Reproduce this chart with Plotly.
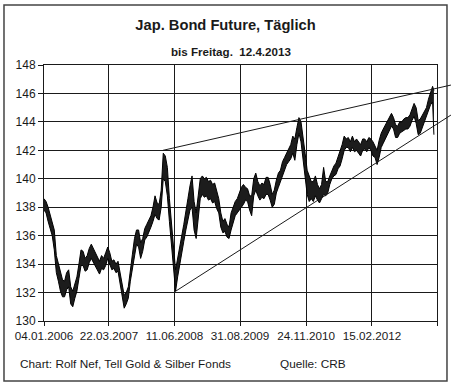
import pandas as pd
import plotly.graph_objects as go

# ---------------- texts ----------------
title_text = "Jap. Bond Future, Täglich"
subtitle_text = "bis Freitag.  12.4.2013"
footer_left = "Chart: Rolf Nef, Tell Gold &amp; Silber Fonds"
footer_right = "Quelle: CRB"

# ---------------- axes ----------------
tick_dates = ["2006-01-04", "2007-03-22", "2008-06-11", "2009-08-31", "2010-11-24", "2012-02-15", "2013-05-03"]
tick_labels = ["04.01.2006", "22.03.2007", "11.06.2008", "31.08.2009", "24.11.2010", "15.02.2012", ""]
x_start = "2006-01-04"
x_end = "2013-05-03"
y_min, y_max = 130, 148
y_ticks = list(range(130, 149, 2))

# ---------------- data (two-week high / low envelope of daily bars) ----------------
dates = list(pd.date_range("2006-01-04", periods=190, freq="14D")) + [pd.Timestamp("2013-04-12")]

high = [138.6, 138.4, 138.0, 137.4, 137.0, 136.4, 134.6, 134.0, 133.3, 132.9,
        132.8, 133.4, 133.6, 132.4, 132.1, 132.6, 133.1, 134.0, 135.0, 134.9,
        134.4, 134.6, 135.1, 135.4, 135.1, 134.7, 134.5, 134.2, 134.6, 134.4,
        134.8, 135.2, 134.8, 134.2, 134.3, 134.0, 134.2, 133.5, 132.6, 131.8,
        132.0, 132.4, 133.8, 134.7, 135.8, 136.4, 136.4, 135.5, 135.8, 136.5,
        136.8, 137.1, 137.4, 138.0, 138.8, 138.3, 138.2, 139.2, 141.8, 141.6,
        140.8, 138.6, 136.6, 135.2, 133.6, 134.5, 135.4, 136.0, 136.8, 137.6,
        138.6, 139.5, 140.2, 138.4, 137.6, 138.8, 140.0, 140.2, 140.0, 140.1,
        139.8, 139.9, 139.6, 139.7, 139.2, 138.6, 137.6, 137.0, 137.2, 136.8,
        136.6, 137.6, 138.0, 138.4, 138.6, 139.0, 139.4, 139.6, 139.4, 139.3,
        138.8, 138.8, 140.0, 140.4, 139.8, 139.5, 139.7, 139.6, 140.1, 140.1,
        139.6, 138.9, 139.2, 139.9, 140.4, 140.6, 141.2, 141.5, 141.8, 142.2,
        142.4, 143.0, 142.8, 143.6, 144.3, 144.0, 143.0, 141.8, 140.6, 140.2,
        139.8, 139.8, 140.2, 139.6, 139.3, 139.6, 140.8, 139.8, 139.8, 140.2,
        140.6, 140.9, 141.1, 141.5, 141.9, 142.4, 143.0, 142.8, 142.9, 142.6,
        143.0, 142.6, 142.8, 142.6, 142.4, 142.8, 142.8, 142.6, 142.9, 142.8,
        142.6, 142.3, 142.0, 142.7, 143.2, 143.5, 143.8, 144.0, 144.3, 144.6,
        144.3, 143.8, 143.7, 144.0, 144.0, 144.2, 144.3, 144.3, 144.5, 144.9,
        145.3, 145.0, 144.1, 144.2, 144.5, 144.8, 145.0, 145.6, 146.0, 146.5,
        146.2]

low = [137.8, 137.6, 137.0, 136.4, 136.0, 135.0, 133.4, 132.8, 132.1, 131.7,
       131.7, 132.2, 132.4, 131.2, 131.0, 131.6, 132.1, 133.0, 133.9, 133.9,
       133.5, 133.6, 134.1, 134.4, 134.1, 133.9, 133.6, 133.3, 133.7, 133.6,
       133.9, 134.4, 134.0, 133.6, 133.7, 133.4, 133.5, 132.6, 131.5, 130.9,
       131.2, 131.6, 132.8, 133.6, 134.6, 135.4, 135.2, 134.4, 134.9, 135.7,
       135.9, 136.2, 136.6, 137.0, 137.5, 137.2, 137.1, 138.0, 140.0, 139.8,
       138.8, 137.0, 135.2, 133.8, 132.1, 133.1, 134.0, 135.0, 135.6, 136.4,
       137.0, 137.8, 138.0, 136.4, 135.8, 137.0, 138.6, 138.9, 138.7, 138.8,
       138.5, 138.6, 138.3, 138.4, 137.9, 137.6, 136.6, 136.2, 136.3, 135.9,
       135.8, 136.4, 137.0, 137.4, 137.6, 137.8, 138.0, 138.2, 138.5, 138.4,
       137.8, 137.4, 138.8, 139.2, 138.8, 138.5, 138.7, 138.6, 138.9, 138.9,
       138.5, 138.0, 138.2, 139.0, 139.4, 139.8, 140.2, 140.7, 141.0, 141.2,
       141.4, 141.8, 141.3, 142.4, 143.2, 142.6, 141.4, 140.0, 138.9, 138.4,
       138.6, 138.4, 138.8, 138.5, 138.3, 138.6, 138.9, 138.8, 139.0, 139.6,
       140.0, 140.2, 140.3, 140.7, 140.9, 141.4, 142.0, 142.2, 142.2, 141.9,
       142.2, 141.9, 142.0, 141.8, 141.6, 142.0, 142.1, 141.9, 142.2, 142.0,
       141.6, 141.5, 141.0, 141.5, 142.2, 142.5, 142.8, 143.0, 143.4, 143.7,
       143.5, 142.9, 142.9, 143.2, 143.3, 143.4, 143.5, 143.5, 143.7, 144.1,
       144.4, 143.9, 143.1, 143.2, 143.6, 144.0, 144.3, 144.8, 145.2, 145.4,
       143.1]

# ---------------- trend lines (anchor points) ----------------
upper_trend_dates = ["2008-03-24", "2013-08-06"]
upper_trend_values = [142.0, 146.59]
lower_trend_dates = ["2008-06-13", "2013-08-06"]
lower_trend_values = [132.06, 144.48]

FONT = "Liberation Sans, Arial, sans-serif"
INK = "#1a1a1a"

t0 = pd.Timestamp(x_start)
t1 = pd.Timestamp(x_end)


def to_paper_x(d):
    return (pd.Timestamp(d) - t0) / (t1 - t0)


def to_paper_y(v):
    return (v - y_min) / (y_max - y_min)


fig = go.Figure()
fig.add_trace(go.Scatter(x=dates, y=low, mode="lines",
                         line=dict(color="black", width=1), hoverinfo="skip", showlegend=False))
fig.add_trace(go.Scatter(x=dates, y=high, mode="lines", fill="tonexty", fillcolor="#1c1c1c",
                         line=dict(color="black", width=1), hoverinfo="skip", showlegend=False))

shapes = []
for ds, vs in ((upper_trend_dates, upper_trend_values), (lower_trend_dates, lower_trend_values)):
    shapes.append(dict(type="line", xref="paper", yref="paper",
                       x0=to_paper_x(ds[0]), y0=to_paper_y(vs[0]),
                       x1=to_paper_x(ds[1]), y1=to_paper_y(vs[1]),
                       line=dict(color=INK, width=1), layer="above"))

# outer frame of the picture
shapes.append(dict(type="rect", xref="paper", yref="paper",
                   x0=-0.1018, x1=1.0254, y0=-0.2344, y1=1.2344,
                   line=dict(color="#444444", width=1.5), layer="below"))

fig.update_layout(
    width=451, height=388, autosize=False,
    margin=dict(l=44, r=14, t=65, b=67, pad=0),
    paper_bgcolor="white", plot_bgcolor="white",
    font=dict(family=FONT, color=INK),
    showlegend=False,
    title=dict(text="<b>" + title_text + "</b>", x=0.5, xref="container", xanchor="center",
               y=1 - 25 / 388, yref="container", yanchor="middle",
               font=dict(family=FONT, size=14.7, color=INK)),
    shapes=shapes,
    annotations=[
        dict(text="<b>" + subtitle_text + "</b>", xref="paper", yref="paper",
             x=0.4758, y=1.0508, xanchor="center", yanchor="middle", showarrow=False,
             font=dict(family=FONT, size=11.6, color=INK)),
        dict(text=footer_left, xref="paper", yref="paper", x=-0.0662, y=-0.168,
             xanchor="left", yanchor="middle", showarrow=False,
             font=dict(family=FONT, size=11.8, color=INK)),
        dict(text=footer_right, xref="paper", yref="paper", x=0.5954, y=-0.168,
             xanchor="left", yanchor="middle", showarrow=False,
             font=dict(family=FONT, size=11.8, color=INK)),
    ],
    xaxis=dict(type="date", range=[x_start, x_end], tickvals=tick_dates, ticktext=tick_labels,
               showgrid=True, gridcolor=INK, gridwidth=1,
               ticks="outside", ticklen=4, tickcolor=INK, tickwidth=1,
               showline=True, linecolor=INK, linewidth=1, mirror=True,
               tickfont=dict(family=FONT, size=11.7, color=INK), fixedrange=True),
    yaxis=dict(range=[y_min, y_max], tickvals=y_ticks, ticktext=[str(v) for v in y_ticks],
               showgrid=True, gridcolor=INK, gridwidth=1, zeroline=False,
               ticks="outside", ticklen=5, tickcolor=INK, tickwidth=1,
               showline=True, linecolor=INK, linewidth=1, mirror=True,
               tickfont=dict(family=FONT, size=12, color=INK), fixedrange=True),
)

fig.write_html("out.html", config={"displayModeBar": False},
               post_script="document.body.style.margin='0';document.body.style.overflow='hidden';")
